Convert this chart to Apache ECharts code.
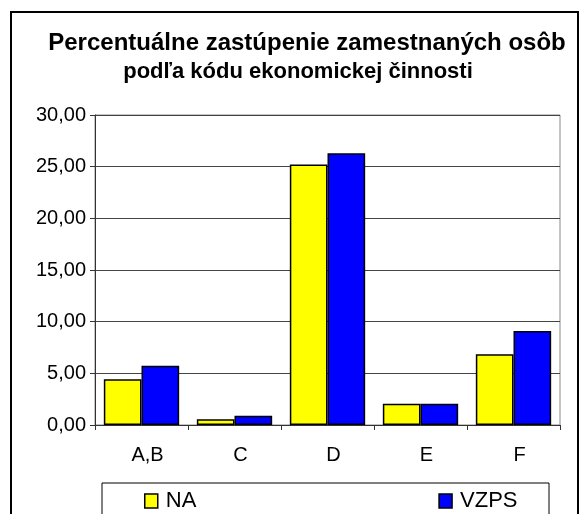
<!DOCTYPE html>
<html>
<head>
<meta charset="utf-8">
<script src="https://cdn.jsdelivr.net/npm/echarts@6/dist/echarts.min.js"></script>
<style>
  html, body { margin: 0; padding: 0; background: #fff; }
  #main { width: 586px; height: 514px; }
</style>
</head>
<body>
<div id="main"></div>
<script>
var categories = ['A,B', 'C', 'D', 'E', 'F'];
var naValues = [4.42, 0.55, 25.2, 2.05, 6.84];
var vzpsValues = [5.74, 0.9, 26.3, 2.05, 9.1];
var seriesNames = ['NA', 'VZPS'];

var font = 'Arial, "Liberation Sans", sans-serif';

function fmt(v) {
    return v.toFixed(2).replace('.', ',');
}

var myChart = echarts.init(document.getElementById('main'));
var option = {
    backgroundColor: '#fff',
    animation: false,
    title: [{
        text: 'Percentuálne zastúpenie zamestnaných osôb',
        left: 302,
        top: 26,
        textAlign: 'center',
        textStyle: { fontFamily: font, fontSize: 24, fontWeight: 'bold', color: '#000' }
    }, {
        text: 'podľa kódu ekonomickej činnosti',
        left: 293,
        top: 56,
        textAlign: 'center',
        textStyle: { fontFamily: font, fontSize: 22, fontWeight: 'bold', color: '#000' }
    }],
    legend: {
        data: seriesNames,
        left: 139,
        top: 485,
        icon: 'rect',
        itemWidth: 13,
        itemHeight: 14,
        itemGap: 242,
        itemStyle: { borderColor: '#000', borderWidth: 1.5 },
        textStyle: { fontFamily: font, fontSize: 22, color: '#000', padding: [0, 0, 0, 3] }
    },
    grid: {
        left: 95,
        right: 26,
        top: 115,
        bottom: 89,
        show: true,
        borderColor: '#888',
        borderWidth: 1
    },
    xAxis: {
        type: 'category',
        data: categories,
        axisLine: { lineStyle: { color: '#333', width: 1 } },
        axisTick: { show: true, length: 5, lineStyle: { color: '#333' } },
        axisLabel: {
            fontFamily: font, fontSize: 20, color: '#000', margin: 20,
            padding: [0, 0, 0, 12]
        }
    },
    yAxis: {
        type: 'value',
        min: 0,
        max: 30,
        interval: 5,
        axisLine: { show: true, lineStyle: { color: '#333', width: 1 } },
        axisTick: { show: true, length: 5, lineStyle: { color: '#333' } },
        axisLabel: {
            fontFamily: font, fontSize: 20, color: '#000', margin: 9,
            formatter: fmt
        },
        splitLine: { lineStyle: { color: '#444', width: 1 } }
    },
    series: [{
        name: seriesNames[0],
        type: 'bar',
        data: naValues,
        barGap: '0%',
        barCategoryGap: '19%',
        itemStyle: { color: '#ffff00', borderColor: '#000', borderWidth: 1.5 }
    }, {
        name: seriesNames[1],
        type: 'bar',
        data: vzpsValues,
        itemStyle: { color: '#0000ff', borderColor: '#000', borderWidth: 1.5 }
    }],
    graphic: [{
        type: 'rect',
        shape: { x: 11, y: 12, width: 567, height: 600 },
        style: { fill: 'none', stroke: '#000', lineWidth: 2 },
        silent: true,
        z: -1
    }, {
        type: 'rect',
        shape: { x: 102, y: 483, width: 447, height: 60 },
        style: { fill: 'none', stroke: '#000', lineWidth: 1 },
        silent: true,
        z: -1
    }]
};
myChart.setOption(option);
</script>
</body>
</html>
